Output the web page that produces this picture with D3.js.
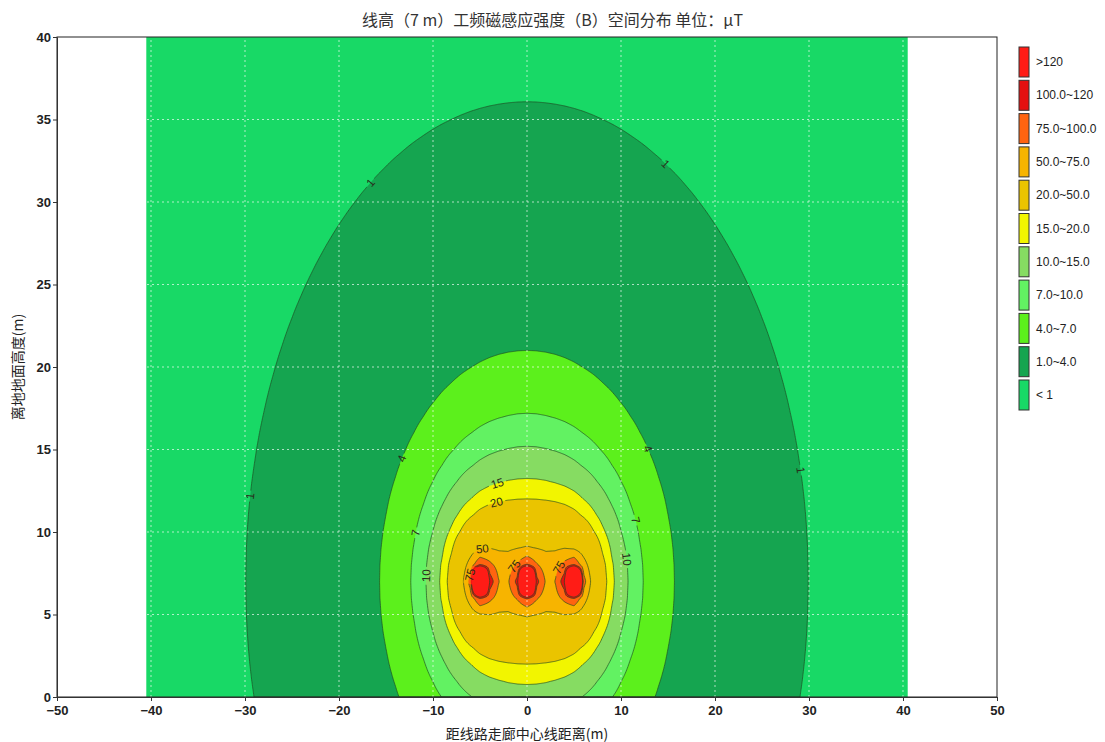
<!DOCTYPE html>
<html>
<head>
<meta charset="utf-8">
<script src="https://cdn.jsdelivr.net/npm/d3@7"></script>
<style>
  body { margin: 0; background: #fff; }
  svg { display: block; }
  .axis text { font-family: "Liberation Sans", Arial, sans-serif; font-weight: bold; font-size: 13px; fill: #222; }
  .axis path, .axis line { stroke: #333; }
</style>
</head>
<body>
<svg id="chart" width="1105" height="742"></svg>
<script>
// ---- data ----
const titleText = '线高（7 m）工频磁感应强度（B）空间分布 单位：μT';
const xTitle = '距线路走廊中心线距离(m)';
const yTitle = '离地地面高度(m)';

// three phase conductors (m) and their phase angles (deg)
const conductorX = [-5, 0, 5];
const conductorY = [7, 7, 7];
const phaseDeg = [0, -120, 120];
const currentA = 500;
const peakCap = 500;  // µT, value kept at a conductor's own grid node

// sample nodes (1 m apart) of the computed area
const nodeX = d3.range(-40, 41, 1);
const nodeY = d3.range(0, 41, 1);

const levels = [1, 4, 7, 10, 15, 20, 50, 75, 100, 120];
const bandNames = ['< 1', '1.0~4.0', '4.0~7.0', '7.0~10.0', '10.0~15.0', '15.0~20.0',
                   '20.0~50.0', '50.0~75.0', '75.0~100.0', '100.0~120', '>120'];
const bandColors = ['#18d966', '#15a550', '#5cf01c', '#62f262', '#86dc62', '#f2f500',
                    '#eac400', '#f7b400', '#ff6410', '#e41010', '#ff1c16'];

const xTicks = [-50, -40, -30, -20, -10, 0, 10, 20, 30, 40, 50];
const yTicks = [0, 5, 10, 15, 20, 25, 30, 35, 40];

// contour labels: level and rough spot (m)
const labelLevel = [1, 1, 1, 1, 4, 4, 7, 7, 10, 10, 15, 20, 50, 75, 75, 75];
const labelX = [-29.7, -16.7, 14.9, 29.3, -13.5, 12.9, -11.9, 11.6, -10.9, 10.4, -3.2, -3.2, -4.7, -6.1, -1.3, 3.5];
const labelY = [12.2, 31.2, 32.4, 13.8, 14.5, 15.0, 10.0, 10.7, 7.4, 8.3, 13.0, 11.8, 8.9, 7.4, 7.9, 7.8];

// ---- layout ----
const margin = {top: 37, right: 108, bottom: 45, left: 57};
const W = 1105, H = 742;
const svg = d3.select('#chart');

const xs = d3.scaleLinear().domain([-50, 50]).range([margin.left, W - margin.right]);
const ys = d3.scaleLinear().domain([0, 40]).range([H - margin.bottom, margin.top]);

// ---- field at the 1 m nodes ----
const mu = 2e-7;
const ph = phaseDeg.map(p => p * Math.PI / 180);

function field(x, y)
{
  let bxr = 0, bxi = 0, byr = 0, byi = 0;
  for (let k = 0; k < conductorX.length; k++)
  {
    const dx = x - conductorX[k], dy = y - conductorY[k];
    const r2 = dx * dx + dy * dy;
    if (r2 < 1e-9) return peakCap;
    const f = mu * currentA / r2;
    const c = Math.cos(ph[k]), s = Math.sin(ph[k]);
    bxr += -f * dy * c; bxi += -f * dy * s;
    byr += f * dx * c;  byi += f * dx * s;
  }
  return Math.min(peakCap, Math.sqrt(bxr * bxr + bxi * bxi + byr * byr + byi * byi) * 1e6);
}

const nodes = nodeY.map(y => nodeX.map(x => field(x, y)));

// each node covers a 1 m cell; shade between nodes bilinearly on a fine raster
const x0 = nodeX[0] - 0.5, x1 = nodeX[nodeX.length - 1] + 0.5;
const y0 = nodeY[0], y1 = nodeY[nodeY.length - 1];
const step = 0.1;
const nx = Math.round((x1 - x0) / step);
const ny = Math.round((y1 - y0) / step);
const values = new Float64Array(nx * ny);

function sample(x, y)
{
  const fx = Math.max(0, Math.min(nodeX.length - 1, x - nodeX[0]));
  const fy = Math.max(0, Math.min(nodeY.length - 1, y - nodeY[0]));
  const i = Math.min(nodeX.length - 2, Math.floor(fx)), j = Math.min(nodeY.length - 2, Math.floor(fy));
  const tx = fx - i, ty = fy - j;
  return (nodes[j][i] * (1 - tx) + nodes[j][i + 1] * tx) * (1 - ty) +
         (nodes[j + 1][i] * (1 - tx) + nodes[j + 1][i + 1] * tx) * ty;
}

for (let j = 0; j < ny; j++)
{
  const y = y1 - (j + 0.5) * step;
  for (let i = 0; i < nx; i++)
  {
    values[j * nx + i] = sample(x0 + (i + 0.5) * step, y);
  }
}

const contourGen = d3.contours().size([nx, ny]).smooth(true);
const geoms = levels.map(l => contourGen.contour(values, l));

const toPx = (gx, gy) => [xs(x0 + gx * step), ys(y1 - gy * step)];
const path = d3.geoPath(d3.geoTransform({
  point: function(gx, gy) { const p = toPx(gx, gy); this.stream.point(p[0], p[1]); }
}));

// ---- fills ----
const plot = svg.append('g');
plot.append('rect')
    .attr('x', xs(x0)).attr('y', ys(y1))
    .attr('width', xs(x1) - xs(x0))
    .attr('height', ys(y0) - ys(y1))
    .attr('fill', bandColors[0]);

plot.selectAll('.band')
    .data(geoms)
    .enter()
    .append('path')
    .attr('class', 'band')
    .attr('d', path)
    .attr('fill', (d, i) => bandColors[i + 1]);

// ---- contour labels (placed on nearest contour point) ----
const labels = labelLevel.map((lv, n) => {
  const g = geoms[levels.indexOf(lv)];
  const target = [xs(labelX[n]), ys(labelY[n])];
  let best = null, bestD = Infinity;
  g.coordinates.forEach(poly => poly.forEach(ring => {
    ring.forEach((pt, idx) => {
      const p = toPx(pt[0], pt[1]);
      const d = (p[0] - target[0]) ** 2 + (p[1] - target[1]) ** 2;
      if (d < bestD) { bestD = d; best = {ring: ring, idx: idx, p: p}; }
    });
  }));
  const ring = best.ring, m = ring.length;
  const a = toPx(...ring[(best.idx - 4 + m) % m]);
  const b = toPx(...ring[(best.idx + 4) % m]);
  let ang = Math.atan2(b[1] - a[1], b[0] - a[0]) * 180 / Math.PI;
  if (ang > 90) ang -= 180;
  if (ang < -90) ang += 180;
  return {text: String(lv), x: best.p[0], y: best.p[1], ang: ang};
});

// mask so the contour lines break under the labels
const defs = svg.append('defs');
const mask = defs.append('mask').attr('id', 'line-mask').attr('maskUnits', 'userSpaceOnUse')
    .attr('x', 0).attr('y', 0).attr('width', W).attr('height', H);
mask.append('rect').attr('width', W).attr('height', H).attr('fill', '#fff');
mask.selectAll('rect.gap')
    .data(labels)
    .enter()
    .append('rect')
    .attr('class', 'gap')
    .attr('x', d => -d.text.length * 3.5 - 2)
    .attr('y', -5)
    .attr('width', d => d.text.length * 7 + 4)
    .attr('height', 10)
    .attr('fill', '#000')
    .attr('transform', d => 'translate(' + d.x + ',' + d.y + ') rotate(' + d.ang + ')');

plot.append('g')
    .attr('mask', 'url(#line-mask)')
    .selectAll('path')
    .data(geoms)
    .enter()
    .append('path')
    .attr('d', path)
    .attr('fill', 'none')
    .attr('stroke', '#1f4a22')
    .attr('stroke-opacity', 0.75)
    .attr('stroke-width', 0.9);

// ---- grid ----
const grid = svg.append('g')
    .attr('stroke', '#fff')
    .attr('stroke-opacity', 0.65)
    .attr('stroke-width', 1)
    .attr('stroke-dasharray', '2,3');

xTicks.filter(t => t > -50 && t < 50).forEach(t => {
  grid.append('line').attr('x1', xs(t)).attr('x2', xs(t)).attr('y1', ys(0)).attr('y2', ys(40));
});
yTicks.filter(t => t > 0 && t < 40).forEach(t => {
  grid.append('line').attr('x1', xs(-50)).attr('x2', xs(50)).attr('y1', ys(t)).attr('y2', ys(t));
});

svg.append('g')
    .selectAll('text')
    .data(labels)
    .enter()
    .append('text')
    .attr('transform', d => 'translate(' + d.x + ',' + d.y + ') rotate(' + d.ang + ')')
    .attr('text-anchor', 'middle')
    .attr('dy', '0.35em')
    .attr('font-family', '"Liberation Sans", Arial, sans-serif')
    .attr('font-size', 11.5)
    .attr('fill', '#2a2a1a')
    .text(d => d.text);

// ---- axes & frame ----
svg.append('rect')
    .attr('x', xs(-50)).attr('y', ys(40))
    .attr('width', xs(50) - xs(-50)).attr('height', ys(0) - ys(40))
    .attr('fill', 'none').attr('stroke', '#222').attr('stroke-width', 1);

svg.append('g')
    .attr('class', 'axis')
    .attr('transform', 'translate(0,' + ys(0) + ')')
    .call(d3.axisBottom(xs).tickValues(xTicks).tickSize(4).tickPadding(5).tickSizeOuter(0));

svg.append('g')
    .attr('class', 'axis')
    .attr('transform', 'translate(' + xs(-50) + ',0)')
    .call(d3.axisLeft(ys).tickValues(yTicks).tickSize(4).tickPadding(2).tickSizeOuter(0));

svg.append('text')
    .attr('x', W / 2).attr('y', 26)
    .attr('text-anchor', 'middle')
    .attr('font-family', '"Noto Sans CJK SC", sans-serif')
    .attr('font-size', 16)
    .attr('fill', '#333')
    .text(titleText);

svg.append('text')
    .attr('x', xs(0)).attr('y', 739)
    .attr('text-anchor', 'middle')
    .attr('font-family', '"Noto Sans CJK SC", sans-serif')
    .attr('font-size', 14)
    .attr('fill', '#222')
    .text(xTitle);

svg.append('text')
    .attr('transform', 'translate(23,' + ys(20) + ') rotate(-90)')
    .attr('text-anchor', 'middle')
    .attr('font-family', '"Noto Sans CJK SC", sans-serif')
    .attr('font-size', 14)
    .attr('fill', '#222')
    .text(yTitle);

// ---- legend ----
const legendOrder = d3.range(bandNames.length).reverse();
const legend = svg.append('g').attr('transform', 'translate(1019,47)');
const item = legend.selectAll('g')
    .data(legendOrder)
    .enter()
    .append('g')
    .attr('transform', (d, i) => 'translate(0,' + i * 33.3 + ')');

item.append('rect')
    .attr('width', 10).attr('height', 30)
    .attr('fill', d => bandColors[d])
    .attr('stroke', '#333').attr('stroke-width', 1);

item.append('text')
    .attr('x', 17).attr('y', 15).attr('dy', '0.35em')
    .attr('font-family', '"Liberation Sans", Arial, sans-serif')
    .attr('font-size', 12)
    .attr('fill', '#222')
    .text(d => bandNames[d]);
</script>
</body>
</html>
